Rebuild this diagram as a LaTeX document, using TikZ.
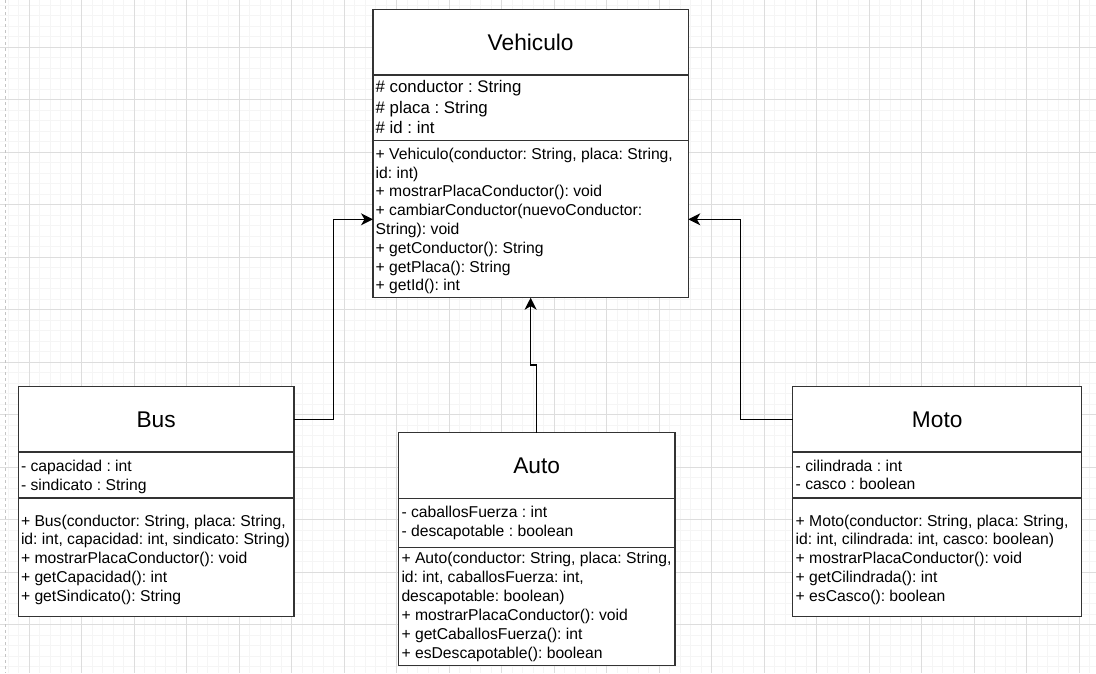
\documentclass[tikz,border=0pt]{standalone}
\usepackage{fontspec}
\setmainfont{Liberation Sans}
\usetikzlibrary{arrows.meta}

\definecolor{gridminor}{HTML}{F5F5F5}
\definecolor{gridmajor}{HTML}{DDDDDD}
\definecolor{pageedge}{HTML}{C4C4C4}
\definecolor{frame}{HTML}{333333}

\tikzset{
  box/.style={draw=frame, line width=1.2pt, fill=white, anchor=north west,
    inner sep=0pt, outer sep=0pt},
  ttl/.style={box, font=\fontsize{22.7}{27}\selectfont},
  ln/.style={anchor=base west, inner sep=0pt, font=\fontsize{15.7}{19}\selectfont},
  lnbig/.style={ln, font=\fontsize{16.8}{20}\selectfont},
  inh/.style={draw=black, line width=1.3pt,
    -{Stealth[length=12pt,width=12pt,inset=3.5pt]}},
}

% one text line per member: style, prefix, left x, first line centre, line step, lines
\newcommand\memberrows[6]{%
  \foreach \t [count=\i from 0] in {#6}
    {\node[#1] (#2\i) at (#3, {#4+\i*#5+5.2}) {\t};}}

\begin{document}
\frenchspacing
\begin{tikzpicture}[x=1pt, y=-1pt]
\useasboundingbox (0,0) rectangle (1096,673);
\fill[white] (0,0) rectangle (1096,673);

% background grid
\foreach \i in {0,...,106} {
  \draw[gridminor, line width=0.8pt] ({-2.2+\i*10.5},0) -- ++(0,673);
  \draw[gridminor, line width=0.8pt] (0,{-5.2+\i*10.5}) -- ++(1096,0);
}
\foreach \i in {0,...,22} {
  \draw[gridmajor, line width=0.9pt] ({-23.2+\i*52.5},0) -- ++(0,673);
  \draw[gridmajor, line width=0.9pt] (0,{-5.2+\i*52.5}) -- ++(1096,0);
}
\draw[pageedge, line width=0.9pt, dash pattern=on 3pt off 3pt] (5,0) -- (5,673);

% Vehiculo
\node[ttl, minimum width=315.3, minimum height=65.3] (veht) at (373,9.7) {Vehiculo};
\node[box, minimum width=315.3, minimum height=65.7] (veha) at (373,75) {};
\node[box, minimum width=315.3, minimum height=157] (vehm) at (373,140.7) {};
\memberrows{lnbig}{va}{375.5}{87.5}{20.3}{{\# conductor : String},{\# placa : String},{\# id : int}}
\memberrows{ln}{vm}{375.5}{154}{18.8}{%
  {+ Vehiculo(conductor: String, placa: String,},
  {id: int)},
  {+ mostrarPlacaConductor(): void},
  {+ cambiarConductor(nuevoConductor:},
  {String): void},
  {+ getConductor(): String},
  {+ getPlaca(): String},
  {+ getId(): int}}

% Bus
\node[ttl, minimum width=275.7, minimum height=65.3] (bust) at (18.3,386.7) {Bus};
\node[box, minimum width=275.7, minimum height=46] (busa) at (18.3,452) {};
\node[box, minimum width=275.7, minimum height=118.3] (busm) at (18.3,498) {};
\memberrows{ln}{ba}{20.8}{466}{19}{{- capacidad : int},{- sindicato : String}}
\memberrows{ln}{bm}{20.8}{521}{18.7}{%
  {+ Bus(conductor: String, placa: String,},
  {id: int, capacidad: int, sindicato: String)},
  {+ mostrarPlacaConductor(): void},
  {+ getCapacidad(): int},
  {+ getSindicato(): String}}

% Auto
\node[ttl, minimum width=276.7, minimum height=66] (autot) at (398.3,432.7) {Auto};
\node[box, minimum width=276.7, minimum height=48.6] (autoa) at (398.3,498.7) {};
\node[box, minimum width=276.7, minimum height=118.4] (autom) at (398.3,547.3) {};
\memberrows{ln}{aa}{401.3}{512.7}{18.7}{{- caballosFuerza : int},{- descapotable : boolean}}
\memberrows{ln}{am}{401.3}{558}{19.05}{%
  {+ Auto(conductor: String, placa: String,},
  {id: int, caballosFuerza: int,},
  {descapotable: boolean)},
  {+ mostrarPlacaConductor(): void},
  {+ getCaballosFuerza(): int},
  {+ esDescapotable(): boolean}}

% Moto
\node[ttl, minimum width=289, minimum height=65.3] (motot) at (792.7,386.7) {Moto};
\node[box, minimum width=289, minimum height=46] (motoa) at (792.7,452) {};
\node[box, minimum width=289, minimum height=118.3] (motom) at (792.7,498) {};
\memberrows{ln}{ma}{795.5}{466}{18.5}{{- cilindrada : int},{- casco : boolean}}
\memberrows{ln}{mm}{795.5}{521}{18.7}{%
  {+ Moto(conductor: String, placa: String,},
  {id: int, cilindrada: int, casco: boolean)},
  {+ mostrarPlacaConductor(): void},
  {+ getCilindrada(): int},
  {+ esCasco(): boolean}}

% inheritance connectors
\coordinate (vehL) at (373,219.3);
\coordinate (vehR) at (688.3,219.3);
\draw[inh] (bust.east) -- ++(39.3,0) |- (vehL);
\draw[inh] (autot.north) -- ++(0,-67.7) -| (vehm.south);
\draw[inh] (motot.west) -- ++(-52.4,0) |- (vehR);
\end{tikzpicture}
\end{document}
